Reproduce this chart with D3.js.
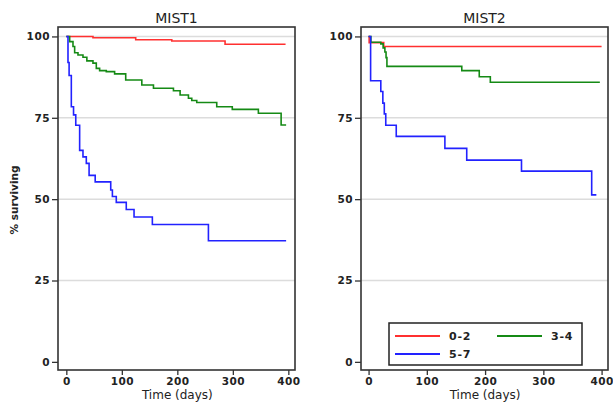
<!DOCTYPE html>
<html>
<head>
<meta charset="utf-8">
<script src="https://cdn.jsdelivr.net/npm/d3@7"></script>
<style>
  body { margin: 0; background: #fff; }
  text { font-family: "DejaVu Sans", Verdana, sans-serif; fill: #222; }
</style>
</head>
<body>
<svg width="613" height="405"></svg>
<script>
// survival curves, [day, % surviving], last point = end of follow-up
var panels = ["MIST1", "MIST2"]
var groups = ["0-2", "3-4", "5-7"]
var colors = ["#ff3030", "#158a15", "#2222ff"]
var yTicks = [0, 25, 50, 75, 100]
var xTicks = [0, 100, 200, 300, 400]

var mist1_02 = [[0, 100], [48, 99.6], [125, 99.0], [190, 98.6], [286, 97.6], [395, 97.6]]
var mist1_34 = [[0, 100], [6, 98.4], [12, 96.9], [15, 95], [21, 94.3], [30, 93.6], [37, 92.5],
  [48, 91.8], [54, 90.2], [60, 89.5], [72, 89.2], [87, 88.5], [107, 86.6], [136, 85.1],
  [157, 84.1], [193, 83.3], [205, 82.0], [220, 81.0], [226, 80.3], [235, 79.7], [271, 78.4],
  [299, 77.6], [346, 76.4], [387, 72.8], [396, 72.8]]
var mist1_57 = [[0, 100], [3, 92], [5, 88], [9, 78.4], [13, 75.9], [17, 72.7], [24, 65],
  [30, 63], [36, 61], [41, 57.3], [52, 55.3], [80, 52.8], [83, 50.8], [90, 49.0],
  [108, 46.8], [122, 44.5], [155, 42.2], [256, 37.2], [396, 37.2]]

var mist2_02 = [[0, 100], [1, 98.1], [26, 96.9], [400, 96.9]]
var mist2_34 = [[0, 100], [4, 98.2], [21, 97.7], [25, 96.5], [28, 95.2], [30, 93.5],
  [31.5, 90.8], [160, 89.5], [190, 87.6], [209, 85.9], [397, 85.9]]
var mist2_57 = [[0, 100], [3.5, 86.4], [21, 83.1], [24.5, 79.5], [27, 76.2], [29.5, 72.7],
  [47.5, 69.3], [131, 65.6], [168.5, 62.0], [262.5, 58.6], [383, 51.3], [391, 51.3]]

var curves = [[mist1_02, mist1_34, mist1_57], [mist2_02, mist2_34, mist2_57]]

var svg = d3.select("svg")

var frames = [
  { left: 58, right: 295, domain: [-15, 412] },
  { left: 361, right: 608, domain: [-13, 411] }
]
var plotTop = 27, plotBottom = 370

var y = d3.scaleLinear().domain([-2.5, 102.9]).range([plotBottom, plotTop])

frames.forEach(function (f, p) {
  var x = d3.scaleLinear().domain(f.domain).range([f.left, f.right])
  var g = svg.append("g")

  // gridlines
  g.selectAll("line.grid")
    .data(yTicks.filter(function (d) { return d > 0 }))
    .enter()
    .append("line")
    .attr("x1", f.left).attr("x2", f.right)
    .attr("y1", function (d) { return y(d) })
    .attr("y2", function (d) { return y(d) })
    .attr("stroke", "#dcdcdc")
    .attr("stroke-width", 1.5)

  var line = d3.line()
    .x(function (d) { return x(d[0]) })
    .y(function (d) { return y(d[1]) })
    .curve(d3.curveStepAfter)

  curves[p].forEach(function (c, i) {
    g.append("path")
      .attr("d", line(c))
      .attr("fill", "none")
      .attr("stroke", colors[i])
      .attr("stroke-width", 1.6)
  })

  g.append("rect")
    .attr("x", f.left).attr("y", plotTop)
    .attr("width", f.right - f.left).attr("height", plotBottom - plotTop)
    .attr("fill", "none")
    .attr("stroke", "#333")
    .attr("stroke-width", 1.6)

  var yAxis = g.append("g")
    .attr("transform", "translate(" + f.left + ",0)")
    .call(d3.axisLeft(y).tickValues(yTicks).tickSize(6).tickPadding(2))
  var xAxis = g.append("g")
    .attr("transform", "translate(0," + plotBottom + ")")
    .call(d3.axisBottom(x).tickValues(xTicks).tickSize(5).tickPadding(3))

  ;[yAxis, xAxis].forEach(function (a) {
    a.select(".domain").remove()
    a.selectAll("line").attr("stroke", "#333").attr("stroke-width", 1.3)
    a.selectAll("text")
      .style("font-family", "'DejaVu Sans', sans-serif")
      .style("font-size", "10.5px")
      .style("font-weight", "bold")
      .style("letter-spacing", "0.5px")
      .attr("fill", "#2a2a2a")
  })

  g.append("text")
    .attr("x", (f.left + f.right) / 2)
    .attr("y", 23)
    .attr("text-anchor", "middle")
    .style("font-size", "14px")
    .text(panels[p])

  g.append("text")
    .attr("x", x(200))
    .attr("y", 399)
    .attr("text-anchor", "middle")
    .style("font-size", "12px")
    .text("Time (days)")
})

svg.append("text")
  .attr("transform", "translate(18,200) rotate(-90)")
  .attr("text-anchor", "middle")
  .style("font-size", "10.5px")
  .style("font-weight", "bold")
  .text("% surviving")

// legend
var legend = svg.append("g")
legend.append("rect")
  .attr("x", 389).attr("y", 323)
  .attr("width", 193).attr("height", 42)
  .attr("fill", "#fff")
  .attr("stroke", "#222")
  .attr("stroke-width", 1.5)

var legendPos = [[395, 336], [497, 336], [395, 354]]
groups.forEach(function (gName, i) {
  var pos = legendPos[i]
  legend.append("line")
    .attr("x1", pos[0]).attr("x2", pos[0] + 45)
    .attr("y1", pos[1]).attr("y2", pos[1])
    .attr("stroke", colors[i])
    .attr("stroke-width", 1.8)
  legend.append("text")
    .attr("x", pos[0] + 54)
    .attr("y", pos[1] + 4)
    .style("font-size", "11px")
    .style("font-weight", "bold")
    .style("letter-spacing", "0.8px")
    .text(gName)
})
</script>
</body>
</html>
